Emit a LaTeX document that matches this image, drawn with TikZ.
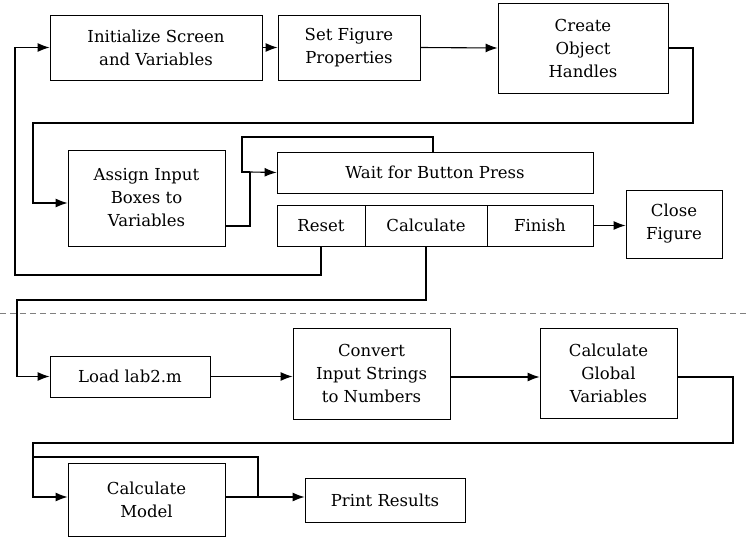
\documentclass[tikz,border=0pt]{standalone}
\usepackage{fontspec}
\setmainfont{DejaVu Serif}
\newfontfamily\tms{DejaVu Serif}
\usetikzlibrary{arrows.meta}
\begin{document}
\begin{tikzpicture}[x=1pt,y=-1pt,
  box/.style={draw,line width=0.8pt,align=center,font=\tms\fontsize{16.5}{23}\selectfont,inner sep=0pt},
  ln/.style={line width=1.1pt},
  ar/.style={ln,-{Latex[length=12pt,width=9pt]}}]
\useasboundingbox (0,0) rectangle (748,538);
\newcommand{\bx}[6]{\node[box,minimum width=#4-#2,minimum height=#5-#3] (#1) at ({(#2+#4)/2},{(#3+#5)/2}) {#6};}
\bx{init}{50}{15}{262}{80}{Initialize Screen\\and Variables}
\bx{setf}{278}{15}{420}{80}{Set Figure\\Properties}
\bx{crea}{498}{3}{668}{93}{Create\\Object\\Handles}
\bx{assign}{68}{150}{225}{246}{Assign Input\\Boxes to\\Variables}
\bx{wait}{277}{152}{593}{193}{Wait for Button Press}
\bx{reset}{277}{205}{365}{246}{Reset}
\bx{calc}{365}{205}{487}{246}{Calculate}
\bx{fin}{487}{205}{593}{246}{Finish}
\bx{close}{626}{190}{722}{258}{Close\\Figure}
\bx{load}{50}{356}{210}{397}{Load lab2.m}
\bx{conv}{293}{328}{450}{419}{Convert\\Input Strings\\to Numbers}
\bx{glob}{540}{328}{677}{418}{Calculate\\Global\\Variables}
\bx{model}{68}{463}{225}{536}{Calculate\\Model}
\bx{print}{305}{478}{465}{522}{Print Results}
\coordinate (j1) at (250,172);
\coordinate (j2) at (258,497);
\draw[ar] (init.east) -- (setf.east -| setf.west);
\draw[ar] (setf.east) -- (crea.west);
\draw[ar] (crea.east) -| (693,123) -| (33,203) -- (assign.west |- 0,203);
\draw[ln] (assign.east |- 0,226) -| (j1);
\draw[ar] (j1) -- (wait.west);
\draw[ln] (wait.north -| 433,0) |- (242,137) |- (j1);
\draw[ar] (fin.east) -- (close.west |- fin.east);
\draw[ar] (reset.south) |- (15,275) |- (init.west);
\draw[ar] (calc.south -| 426,0) |- (17,300) |- (load.west);
\draw[gray,line width=1pt,dash pattern=on 6pt off 4pt] (0,313) -- (748,313);
\draw[ar] (load.east) -- (conv.west |- load.east);
\draw[ar] (conv.east |- 0,377) -- (glob.west |- 0,377);
\draw[ar] (glob.east |- 0,377) -| (733,443) -| (33,497) -- (model.west |- 0,497);
\draw[ar] (model.east |- 0,497) -- (print.west |- 0,497);
\draw[ln] (j2) |- (33,457);
\end{tikzpicture}
\end{document}
